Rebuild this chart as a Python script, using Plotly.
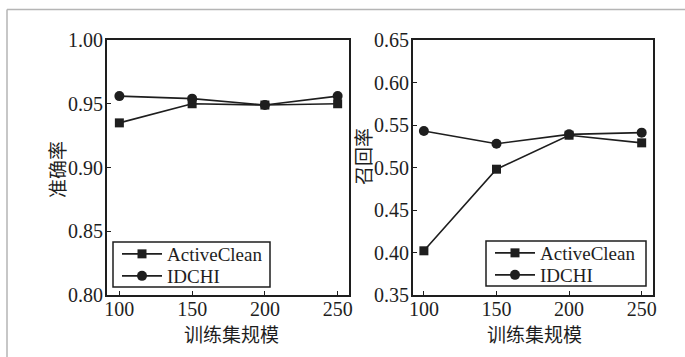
import plotly.graph_objects as go

# Training-set sizes
sizes = [100, 150, 200, 250]

# Accuracy (准确率)
acc_activeclean = [0.935, 0.950, 0.949, 0.950]
acc_idchi = [0.956, 0.954, 0.949, 0.956]

# Recall (召回率)
rec_activeclean = [0.402, 0.498, 0.538, 0.529]
rec_idchi = [0.543, 0.528, 0.539, 0.541]

series_names = ["ActiveClean", "IDCHI"]
acc_ticks = [0.80, 0.85, 0.90, 0.95, 1.00]
rec_ticks = [0.35, 0.40, 0.45, 0.50, 0.55, 0.60, 0.65]
x_title = "训练集规模"

W, H = 685, 357
INK = "#1e1e1e"
SERIF = "Liberation Serif, Times New Roman, serif"
CJK = "Noto Sans CJK SC"


def px_x(p):
    return p / W


def px_y(p):
    return 1 - p / H


fig = go.Figure()


def add_pair(xa, ya, legends, y_ac, y_id):
    fig.add_trace(go.Scatter(
        x=sizes, y=y_ac, name=series_names[0], mode="lines+markers",
        xaxis=xa, yaxis=ya, legend=legends[0],
        line=dict(color=INK, width=1.6),
        marker=dict(symbol="square", size=9, color=INK)))
    fig.add_trace(go.Scatter(
        x=sizes, y=y_id, name=series_names[1], mode="lines+markers",
        xaxis=xa, yaxis=ya, legend=legends[1],
        line=dict(color=INK, width=1.6),
        marker=dict(symbol="circle", size=10, color=INK)))


add_pair("x", "y", ("legend", "legend2"), acc_activeclean, acc_idchi)
add_pair("x2", "y2", ("legend3", "legend4"), rec_activeclean, rec_idchi)

axis_common = dict(
    showline=True, linecolor=INK, linewidth=2, mirror=True,
    ticks="inside", ticklen=4, tickwidth=1.2, tickcolor=INK,
    showgrid=False, zeroline=False, automargin=False,
    tickfont=dict(family=SERIF, size=20, color=INK),
)
x_axis_common = dict(axis_common, ticklabelstandoff=-5)
y_axis_common = dict(axis_common, ticklabelstandoff=-2)


def legend_row(x_px, y_px):
    # one legend entry per row, so the row pitch can be set exactly
    return dict(x=px_x(x_px), y=px_y(y_px), xanchor="left", yanchor="middle",
                bgcolor="rgba(0,0,0,0)", borderwidth=0,
                font=dict(family=SERIF, size=19, color=INK),
                itemwidth=40, tracegroupgap=0)


fig.update_layout(
    width=W, height=H,
    margin=dict(l=0, r=0, t=0, b=0, autoexpand=False),
    paper_bgcolor="white", plot_bgcolor="white",
    xaxis=dict(domain=[px_x(107), px_x(349)], range=[91.5, 257.8],
               tickvals=sizes, anchor="y", **x_axis_common),
    yaxis=dict(domain=[px_y(295), px_y(40)], range=[0.80, 1.00],
               tickvals=acc_ticks, tickformat=".2f", anchor="x", **y_axis_common),
    xaxis2=dict(domain=[px_x(413), px_x(653)], range=[92.5, 257.8],
                tickvals=sizes, anchor="y2", **x_axis_common),
    yaxis2=dict(domain=[px_y(295), px_y(40)], range=[0.35, 0.65],
                tickvals=rec_ticks, tickformat=".2f", anchor="x2", **y_axis_common),
    legend=legend_row(117, 254),
    legend2=legend_row(117, 276),
    legend3=legend_row(490, 253),
    legend4=legend_row(490, 275),
    showlegend=True,
)

# Legend frames
fig.add_shape(type="rect", xref="paper", yref="paper", layer="above",
              x0=px_x(113), x1=px_x(270), y0=px_y(287), y1=px_y(242),
              line=dict(color=INK, width=1.5))
fig.add_shape(type="rect", xref="paper", yref="paper", layer="above",
              x0=px_x(486), x1=px_x(646), y0=px_y(286), y1=px_y(241),
              line=dict(color=INK, width=1.5))

# Axis titles
title_font = dict(family=CJK, size=19, color=INK)
for tx, ty, text, angle in [
    (231, 333, x_title, 0),
    (534, 333, x_title, 0),
    (56, 170, "准确率", -90),
    (362, 157, "召回率", -90),
]:
    fig.add_annotation(x=px_x(tx), y=px_y(ty), xref="paper", yref="paper",
                       xanchor="center", yanchor="middle",
                       text=text, showarrow=False, textangle=angle,
                       font=title_font)

# Thin gray frame along the top and left edges
fig.add_shape(type="line", xref="paper", yref="paper",
              x0=px_x(7), x1=1, y0=px_y(9.5), y1=px_y(9.5),
              line=dict(color="#b5b5b5", width=1.5))
fig.add_shape(type="line", xref="paper", yref="paper",
              x0=px_x(7), x1=px_x(7), y0=px_y(9.5), y1=0,
              line=dict(color="#b5b5b5", width=1.5))

fig.write_html("out.html")
